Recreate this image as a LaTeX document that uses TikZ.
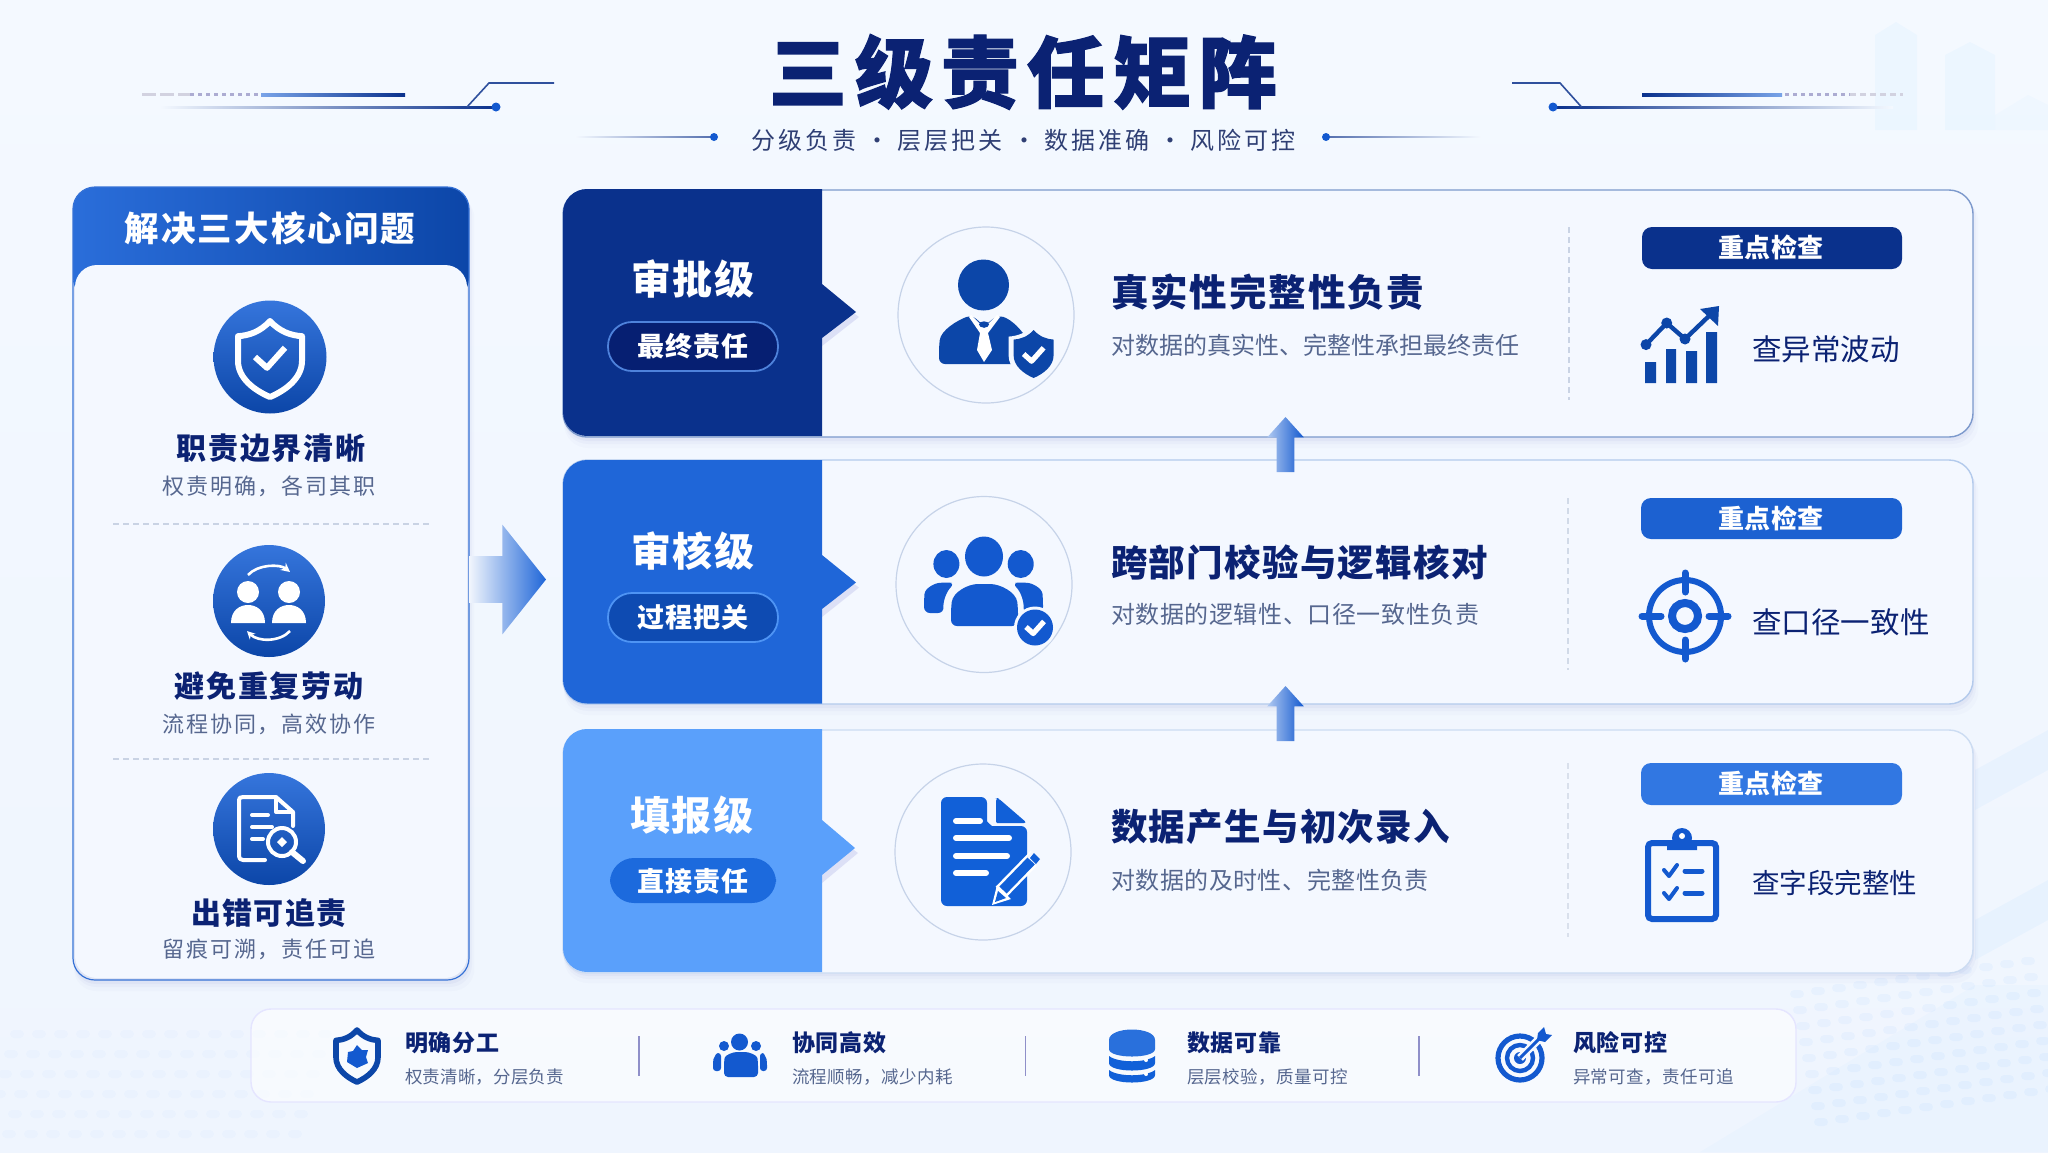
\documentclass[tikz,border=0pt]{standalone}
\usepackage{fontspec}
\setmainfont{Noto Sans CJK SC}
\usetikzlibrary{shapes.arrows,calc,arrows.meta}
\definecolor{navy}{HTML}{0B2273}
\definecolor{subgray}{HTML}{56678F}
\definecolor{subnavy}{HTML}{2F3F74}
\definecolor{cA}{HTML}{0A318C}
\definecolor{cB}{HTML}{1F66D8}
\definecolor{cC}{HTML}{5AA0FB}
\definecolor{icoA}{HTML}{0C46A8}
\definecolor{icoB}{HTML}{1359CF}
\definecolor{icoC}{HTML}{1160D8}
\definecolor{bgT}{HTML}{F4F9FF}
\definecolor{bgB}{HTML}{EFF5FE}
\definecolor{cardfill}{HTML}{F4F8FF}
\definecolor{bordA}{HTML}{7C99CC}
\definecolor{bordB}{HTML}{B3CAEC}
\definecolor{bordC}{HTML}{CCDCF2}
\definecolor{ringc}{HTML}{C6D3E8}
\definecolor{sepc}{HTML}{C9D3E4}
\newcommand\tx[9]{\node[anchor=#2,text=#7,inner sep=0,outer sep=0] (#1) at ({#3},{#4+0.38*#5}) {\pgfmathsetmacro\fsz{#5*0.5}\pgfmathsetmacro\lsv{(#6-#5)/#5*100}\pgfmathsetmacro\trail{(#6-#5)*0.5}\fontsize{\fsz}{\fsz}\selectfont#8\addfontfeatures{LetterSpace=\lsv}#9\hskip-\trail pt};}
\newcommand\bx[6]{\node[#6,inner sep=0,outer sep=0,minimum width={(#4-#2)*0.5pt},minimum height={(#5-#3)*0.5pt}] (#1) at ({(#2+#4)/2},{(#3+#5)/2}) {};}
\newcommand\softsh[5]{\foreach \d/\o in {2/.03,5/.022,9/.015}{\fill[blue!60!black,opacity=\o,rounded corners=#5] ({#1+1},{#2+\d}) rectangle ({#3+\d*0.6},{#4+\d+2});}}
\def\shieldp{(0,-1) .. controls (0.3,-0.72) and (0.65,-0.62) .. (1,-0.6) -- (1,0.05) .. controls (1,0.5) and (0.5,0.82) .. (0,1) .. controls (-0.5,0.82) and (-1,0.5) .. (-1,0.05) -- (-1,-0.6) .. controls (-0.65,-0.62) and (-0.3,-0.72) .. (0,-1) -- cycle}
\newcommand\chk[4]{\draw[#3,line width=#4,line join=round] ({#1-#2},{0+\chkY}) -- ({#1-0.2*#2},{\chkY+0.72*#2}) -- ({#1+#2},{\chkY-0.62*#2});}
\tikzset{
 x=0.5pt,y=-0.5pt,
 dsep/.style={draw=#1,line width=.8pt,dash pattern=on 3pt off 2pt},
 cardbody/.style={fill=cardfill,draw=#1,line width=0.7pt,rounded corners=12pt},
 pill/.style={rounded corners=12pt,fill=#1},
 badge/.style={rounded corners=5pt,fill=#1},
 iconring/.style={fill=cardfill,draw=ringc,line width=0.6pt,circle},
 upar/.style={single arrow,rotate=90,anchor=tip,inner xsep=0,inner ysep=4.25pt,outer sep=0,minimum height=27.5pt,minimum width=18pt,single arrow head extend=4.75pt,single arrow head indent=0pt,single arrow tip angle=84,left color=cB!35!white,middle color=icoB,right color=icoB,draw=none},
}
\begin{document}
\begin{tikzpicture}
\useasboundingbox (0,0) rectangle (2048,1152);
\begin{scope}
\clip (0,0) rectangle (2048,1152);
\shade[top color=bgT,bottom color=bgB] (0,0) rectangle (2048,1152);
% background decoration
\fill[blue!35!cyan,opacity=.03] (1875,130) -- (1875,35) -- (1896,22) -- (1917,35) -- (1917,130) -- cycle;
\fill[blue!35!cyan,opacity=.03] (1945,130) -- (1945,55) -- (1970,42) -- (1995,55) -- (1995,130) -- cycle;
\fill[blue!35!cyan,opacity=.02] (1995,130) -- (1995,115) -- (2028,95) -- (2048,105) -- (2048,130) -- cycle;
\fill[blue!40!cyan,opacity=.035] (1975,770) -- (2048,730) -- (2048,770) -- (1975,810) -- cycle;
\fill[blue!40!cyan,opacity=.035] (1975,920) -- (2048,880) -- (2048,920) -- (1975,960) -- cycle;
\fill[blue!40!cyan,opacity=.02] (1700,1152) -- (1975,985) -- (2048,985) -- (2048,1152) -- cycle;
\foreach \r in {0,...,8}{\foreach \c in {0,...,11}{
 \fill[blue!50!cyan,opacity=.035,rounded corners=2pt] ({1790-\r*8+\c*21+\r*11},{990+\r*16-\c*3}) rectangle ++(14,8);
}}
\foreach \r in {0,...,5}{\foreach \c in {0,...,14}{
 \fill[blue!50!cyan,opacity=.02,rounded corners=2pt] ({10+\c*22-\r*6},{1030+\r*20}) rectangle ++(14,8);
}}
\end{scope}

% header ornaments
\shade[left color=bgT,right color=cA] (160,106) rectangle (496,108);
\fill[icoB] (496,107) circle[radius=4.5];
\draw[cA!85!white,line width=.8pt] (467,107) -- (489,83) -- (554,83);
\draw[blue!18!gray!30!white,line width=1.5pt,dash pattern=on 7pt off 2pt] (142,94.7) -- (190,94.7);
\draw[blue!30!gray!50!white,line width=1.5pt,dash pattern=on 2pt off 2pt] (190,94.7) -- (261,94.7);
\shade[left color=cB!60!white,right color=cA] (261,93) rectangle (405,96.5);
\shade[left color=cA,right color=bgT] (1553,106) rectangle (1893,108);
\fill[icoB] (1553,107) circle[radius=4.5];
\draw[cA!85!white,line width=.8pt] (1512,83) -- (1560,83) -- (1581.5,107);
\shade[left color=cA,right color=cB!60!white] (1642,93) rectangle (1782,96.5);
\draw[blue!30!gray!50!white,line width=1.5pt,dash pattern=on 2pt off 2pt] (1785,94.7) -- (1850,94.7);
\draw[blue!18!gray!30!white,line width=1.5pt,dash pattern=on 3pt off 2pt] (1850,94.7) -- (1903,94.7);
\shade[left color=bgT,right color=cA!70!white] (575,136.5) rectangle (714,137.5);
\fill[icoB] (714,137) circle[radius=4];
\shade[left color=cA!70!white,right color=bgT] (1326,136.5) rectangle (1481,137.5);
\fill[icoB] (1326,137) circle[radius=4];

\tx{title}{base}{1023}{72}{78}{86}{navy}{\bfseries\addfontfeatures{FakeBold=1.5}}{三级责任矩阵}
\tx{s1}{base}{804}{140}{24}{27}{subnavy}{}{分级负责}
\tx{s2}{base}{950}{140}{24}{27}{subnavy}{}{层层把关}
\tx{s3}{base}{1097}{140}{24}{27}{subnavy}{}{数据准确}
\tx{s4}{base}{1243}{140}{24}{27}{subnavy}{}{风险可控}
\tx{d1}{base}{877}{140}{24}{24}{subnavy}{}{·}
\tx{d2}{base}{1024}{140}{24}{24}{subnavy}{}{·}
\tx{d3}{base}{1170}{140}{24}{24}{subnavy}{}{·}

% left panel
\softsh{73}{187}{469}{980}{11pt}
\shade[left color=cB!95!white,right color=icoA,rounded corners=11pt] (73,300) -- (73,187) -- (469,187) -- (469,300) -- cycle;
\bx{panelinner}{75}{265}{467}{978}{fill=cardfill,rounded corners=11pt}
\bx{panel}{73}{187}{469}{980}{draw=icoB!85!white,line width=.6pt,rounded corners=11pt}
\tx{ptitle}{base}{270}{228}{34.5}{36.6}{white}{\bfseries}{解决三大核心问题}

\node[circle,inner sep=0,minimum size=56.5pt,top color=cB!90!white,bottom color=icoA] (c1) at (270,357) {};
\begin{scope}[shift={(270,359)},xscale=32,yscale=38]
\draw[white,line width=3pt,line join=round] \shieldp;
\end{scope}
\def\chkY{357}\chk{270}{15}{white}{3pt}
\tx{p1}{base}{271}{448}{30}{31.8}{navy}{\bfseries}{职责边界清晰}
\tx{p1s}{base}{269}{486}{22}{23.8}{subgray}{}{权责明确，各司其职}
\draw[dsep=sepc] (113,524) -- (429,524);

\node[circle,inner sep=0,minimum size=56pt,top color=cB!90!white,bottom color=icoA] (c2) at (269,601) {};
\foreach \hx in {248,289}{
 \fill[white] (\hx,592) circle[radius=11];
 \fill[white] ({\hx-17},623) .. controls ({\hx-17},610) and ({\hx-8},605) .. (\hx,605) .. controls ({\hx+8},605) and ({\hx+17},610) .. ({\hx+17},623) -- cycle;
}
\draw[white,line width=1.3pt,-{Stealth[length=4.5pt,width=4.5pt]}] (248,575) .. controls (258,564) and (280,564) .. (290,572);
\draw[white,line width=1.3pt,{Stealth[length=4pt,width=4pt]}-] (247,631) .. controls (258,642) and (280,642) .. (290,631);
\tx{p2}{base}{269}{686}{30}{31.8}{navy}{\bfseries}{避免重复劳动}
\tx{p2s}{base}{269}{724}{22}{23.8}{subgray}{}{流程协同，高效协作}
\draw[dsep=sepc] (113,759) -- (429,759);

\node[circle,inner sep=0,minimum size=56pt,top color=cB!90!white,bottom color=icoA] (c3) at (269,829) {};
\draw[white,line width=2pt,line join=round,line cap=round] (265,860) -- (243,860) .. controls (240,860) and (239,858) .. (239,856) -- (239,800) .. controls (239,798) and (240,797) .. (243,797) -- (276,797) -- (293,812) -- (293,826);
\draw[white,line width=2pt,line join=round] (276,797) -- (276,812) -- (293,812);
\draw[white,line width=2pt,line cap=round] (252,815) -- (268,815) (252,827) -- (272,827) (252,839) -- (263,839);
\draw[white,line width=2pt] (282,842) circle[radius=14];
\draw[white,line width=3pt,line cap=round] (292,852) -- (303,861);
\fill[white] (282,837) -- (287,842) -- (282,847) -- (277,842) -- cycle;
\tx{p3}{base}{269}{913}{30}{31.4}{navy}{\bfseries}{出错可追责}
\tx{p3s}{base}{269}{949}{22}{23.8}{subgray}{}{留痕可溯，责任可追}

% big arrow
\node[single arrow,anchor=tip,inner xsep=0,inner ysep=11.5pt,outer sep=0,minimum height=38.5pt,minimum width=54.5pt,single arrow head extend=15.75pt,single arrow head indent=0pt,single arrow tip angle=103,left color=cB!6!white,middle color=cB!75!white,right color=cB,draw=none] (bigarrow) at (546,579.5) {};

% cards
\softsh{563}{189}{1973}{437}{12pt}
\softsh{563}{460}{1973}{704}{12pt}
\softsh{563}{729}{1973}{972}{12pt}
\bx{card1}{563}{190}{1973}{437}{cardbody=bordA}
\bx{card2}{563}{460}{1973}{704}{cardbody=bordB}
\bx{card3}{563}{730}{1973}{973}{cardbody=bordC}

\foreach \ya/\yb/\yt/\yc/\yd/\col/\xe in {189/436/284/312/338/cA/856,460/703.5/555/582.5/609/cB/856,729/972/820/848/875/cC/855}{
 \fill[blue!50!gray,opacity=.13] (822,\yt+6) -- (\xe+3,\yc+5) -- (822,\yd+8) -- cycle;
 \fill[\col] (822,\ya) [rounded corners=12pt] -- (563,\ya) -- (563,\yb) [sharp corners] -- (822,\yb) -- (822,\yd) -- (\xe,\yc) -- (822,\yt) -- cycle;
}

\tx{l1}{base}{693}{279}{40}{42}{white}{\bfseries}{审批级}
\bx{pill1}{608}{322}{778}{371}{pill=cA!70!black!90!blue,draw=icoB!75!white,line width=.9pt}
\tx{l1p}{base}{693}{346}{27}{28}{white}{\bfseries}{最终责任}
\tx{l2}{base}{693}{551}{40}{42}{white}{\bfseries}{审核级}
\bx{pill2}{608}{593}{778}{642}{pill=icoA!75!icoB,draw=cC!80!cB,line width=.9pt}
\tx{l2p}{base}{693}{617}{27}{28}{white}{\bfseries}{过程把关}
\tx{l3}{base}{692}{815}{40}{42}{white}{\bfseries}{填报级}
\bx{pill3}{610}{858}{776}{903}{pill=icoC!85!cC}
\tx{l3p}{base}{693}{881}{27}{28}{white}{\bfseries}{直接责任}

% ring icons
\node[iconring,inner sep=0,minimum size=88pt] (r1) at (986,315) {};
\node[iconring,inner sep=0,minimum size=88pt] (r2) at (984,584.5) {};
\node[iconring,inner sep=0,minimum size=88pt] (r3) at (983,852) {};

% person icon
\fill[icoA] (983.5,285) circle[radius=25.5];
\fill[icoA,rounded corners=3pt] (939,364) -- (939,346) .. controls (941,330) and (958,320) .. (972,315) -- (984,326) -- (998,315) .. controls (1012,320) and (1022,330) .. (1030,345) -- (1030,364) -- cycle;
\fill[white] (971,315) -- (984,328) -- (997,315) -- (1000,317) -- (988,333) -- (992,350) -- (984,362) -- (977,350) -- (980,333) -- (969,317) -- cycle;
\fill[icoA] (984,324.5) ellipse[x radius=5,y radius=3.2];
\begin{scope}[shift={(1033.6,354)},xscale=25,yscale=29]
\fill[cardfill] \shieldp;
\end{scope}
\begin{scope}[shift={(1033.6,354)},xscale=20,yscale=24]
\fill[icoA] \shieldp;
\end{scope}
\def\chkY{354}\chk{1033.6}{10}{white}{2.6pt}

% group icon
\fill[icoB] (984,556.5) ellipse[x radius=19,y radius=20];
\fill[icoB] (946.4,564) ellipse[x radius=13,y radius=14];
\fill[icoB] (1020.7,564) ellipse[x radius=13,y radius=14];
\fill[icoB,rounded corners=3pt] (924,613) -- (924,600) .. controls (925,588) and (935,583) .. (946,582.5) -- (955,583) .. controls (946,592) and (943,602) .. (944,613) -- cycle;
\fill[icoB,rounded corners=3pt] (1043,613) -- (1043,600) .. controls (1042,588) and (1032,583) .. (1021,582.5) -- (1012,583) .. controls (1021,592) and (1024,602) .. (1023,613) -- cycle;
\fill[icoB,rounded corners=3pt] (951,626) -- (951,608) .. controls (953,592) and (968,584) .. (984,584) .. controls (1000,584) and (1016,592) .. (1018,608) -- (1018,626) -- cycle;
\fill[cardfill] (1035,627.5) circle[radius=21];
\fill[icoB] (1035,627.5) circle[radius=18];
\def\chkY{627}\chk{1035}{9}{white}{2.6pt}

% doc icon
\fill[icoC,rounded corners=3pt] (941,906) -- (941,797) -- (987,797) -- (987,815) .. controls (987,822) and (992,826) .. (998,826) -- (1027,826) -- (1027,906) -- cycle;
\fill[icoC,rounded corners=1.5pt] (998,798) -- (1027,823) -- (1000,823) .. controls (997,823) and (996,821) .. (996,819) -- (996,798) -- cycle;
\draw[white,line width=3pt,line cap=round] (956,821) -- (980,821) (956,838) -- (1009,838) (956,856) -- (1007,856) (956,873) -- (986,873);
\draw[white,line width=7.5pt,line cap=butt] (1001,892) -- (1036,856);
\draw[icoC,line width=5pt] (1003,890) -- (1035,857);
\fill[cardfill] (1033,850) -- (1043,859) -- (1037,866) -- (1027,857) -- cycle;
\fill[icoC] (1034,853) -- (1040,859) -- (1036,864) -- (1030,858) -- cycle;
\fill[white] (992,905) -- (997,885) -- (1011,899) -- cycle;
\fill[icoC] (995,902) -- (998,891) -- (1006,898) -- cycle;

% card texts
\tx{h1}{base west}{1111}{292}{37.5}{39.4}{navy}{\bfseries}{真实性完整性负责}
\tx{d1t}{base west}{1111}{345}{24}{24}{subgray}{}{对数据的真实性、完整性承担最终责任}
\tx{h2}{base west}{1111}{563}{36.5}{37.8}{navy}{\bfseries}{跨部门校验与逻辑核对}
\tx{d2t}{base west}{1111}{614}{24}{24.6}{subgray}{}{对数据的逻辑性、口径一致性负责}
\tx{h3}{base west}{1111}{827}{36.5}{37.8}{navy}{\bfseries}{数据产生与初次录入}
\tx{d3t}{base west}{1111}{880}{24}{24.5}{subgray}{}{对数据的及时性、完整性负责}

\draw[dsep=sepc] (1569,227) -- (1569,400);
\draw[dsep=sepc!85!white] (1568,498) -- (1568,670);
\draw[dsep=sepc!70!white] (1568,763) -- (1568,937);

\bx{b1}{1642}{227}{1902}{269}{badge=cA}
\tx{b1t}{base}{1771}{248}{26}{26.2}{white}{\bfseries}{重点检查}
\bx{b2}{1641}{498}{1902}{539}{badge=cB!85!icoA}
\tx{b2t}{base}{1771}{519}{26}{26.2}{white}{\bfseries}{重点检查}
\bx{b3}{1641}{763}{1902}{805}{badge=cB!70!cC}
\tx{b3t}{base}{1771}{784}{26}{26.2}{white}{\bfseries}{重点检查}

\tx{r1t}{base west}{1752}{349}{29.5}{29.6}{navy}{}{查异常波动}
\tx{r2t}{base west}{1752}{622}{29.5}{29.6}{navy}{}{查口径一致性}
\tx{r3t}{base west}{1752}{883}{27.5}{27.5}{navy}{}{查字段完整性}

% chart icon
\fill[icoA] (1645,362) rectangle (1656,383) (1666,349) rectangle (1676,383) (1686,351) rectangle (1697,383) (1706,332) rectangle (1717,383);
\draw[icoA,line width=2.2pt] (1646,344.6) -- (1666.7,323) -- (1685,339) -- (1710,315);
\fill[icoA] (1646,344.6) circle[radius=5.5] (1666.7,323) circle[radius=5.5] (1685,339) circle[radius=5.5];
\fill[icoA] (1719,306) -- (1718,326) -- (1700,309) -- cycle;

% target icon
\draw[icoB,line width=3pt] (1685,616) circle[radius=36];
\draw[icoB,line width=4pt] (1685,616) circle[radius=13];
\draw[icoB,line width=3.5pt,line cap=round] (1685,573) -- (1685,592) (1685,640) -- (1685,659) (1642,616) -- (1661,616) (1709,616) -- (1728,616);

% clipboard icon
\draw[icoB,line width=3pt,rounded corners=2pt] (1648,843) rectangle (1716,919);
\fill[icoB] (1667,850) [rounded corners=3pt] -- (1667,840) -- (1697,840) [sharp corners] -- (1697,850) -- cycle;
\fill[icoB] (1682,838) circle[radius=10];
\fill[white] (1682,836) circle[radius=3];
\draw[icoB,line width=2pt,line join=round,line cap=round] (1664,870) -- (1669,876) -- (1677,865) (1664,893) -- (1669,899) -- (1677,888);
\draw[icoB,line width=2.5pt,line cap=round] (1685,871) -- (1702,871) (1685,893) -- (1702,893);

% up arrows
\node[upar] (up1) at (1285.5,417) {};
\node[upar] (up2) at (1285.5,686) {};

% bottom band
\bx{band}{251}{1009}{1796}{1102}{fill=white,fill opacity=.55,draw=blue!10!white,line width=.7pt,rounded corners=10pt}
\begin{scope}[shift={(357,1056)},xscale=21,yscale=26]
\draw[icoA,line width=2.8pt,line join=round] \shieldp;
\end{scope}
\fill[icoB] (357,1045) -- (362,1050) -- (368,1050) -- (366,1057) -- (368,1063) -- (357,1068) -- (347,1062) -- (348,1052) -- (353,1051) -- cycle;
\tx{f1}{base west}{405}{1043}{23}{23.7}{navy}{\bfseries}{明确分工}
\tx{f1s}{base west}{405}{1077}{17.5}{17.7}{subgray}{}{权责清晰，分层负责}
\draw[gray!65!blue!65!white,line width=.7pt] (639,1036) -- (639,1076);

\fill[icoB] (739.5,1042) circle[radius=8.5];
\fill[icoB] (724,1046) circle[radius=5] (756,1046) circle[radius=5];
\fill[icoB,rounded corners=2pt] (724,1077) -- (724,1062) .. controls (725,1055) and (733,1052) .. (741,1052) .. controls (749,1052) and (757,1055) .. (758,1062) -- (758,1077) -- cycle;
\fill[icoB,rounded corners=1.5pt] (713,1071) -- (713,1062) .. controls (714,1056) and (717,1053) .. (721,1053) -- (721,1071) -- cycle;
\fill[icoB,rounded corners=1.5pt] (767,1071) -- (767,1062) .. controls (766,1056) and (763,1053) .. (760,1053) -- (760,1071) -- cycle;
\tx{f2}{base west}{792}{1043}{23}{23.7}{navy}{\bfseries}{协同高效}
\tx{f2s}{base west}{792}{1077}{17.5}{17.9}{subgray}{}{流程顺畅，减少内耗}
\draw[gray!65!blue!65!white,line width=.7pt] (1025.5,1036) -- (1025.5,1076);

\fill[icoC!90!white] (1109,1040) .. controls (1109,1026) and (1155,1026) .. (1155,1040) -- (1155,1049) .. controls (1155,1059) and (1109,1059) .. (1109,1049) -- cycle;
\fill[icoC] (1109,1056) .. controls (1118,1063) and (1146,1063) .. (1155,1056) -- (1155,1063) .. controls (1155,1073) and (1109,1073) .. (1109,1063) -- cycle;
\fill[icoC] (1109,1070) .. controls (1118,1077) and (1146,1077) .. (1155,1070) -- (1155,1075) .. controls (1155,1085) and (1109,1085) .. (1109,1075) -- cycle;
\fill[white] (1146,1060) circle[radius=2] (1146,1074) circle[radius=2];
\tx{f3}{base west}{1187}{1043}{23}{23.7}{navy}{\bfseries}{数据可靠}
\tx{f3s}{base west}{1187}{1077}{17.5}{17.9}{subgray}{}{层层校验，质量可控}
\draw[gray!65!blue!65!white,line width=.7pt] (1419,1036) -- (1419,1076);

\draw[icoB,line width=2.6pt] (1520,1058) circle[radius=22];
\draw[icoB,line width=2.2pt] (1520,1058) circle[radius=13];
\fill[icoB] (1520,1058) circle[radius=6];
\draw[bgT,line width=4pt] (1520,1058) -- (1548,1030);
\draw[icoB,line width=1.5pt] (1520,1058) -- (1541,1037);
\fill[icoB] (1537,1040) -- (1538,1033) -- (1544,1027) -- (1546,1034) -- (1552,1035) -- (1545,1042) -- cycle;
\tx{f4}{base west}{1573}{1043}{23}{23.7}{navy}{\bfseries}{风险可控}
\tx{f4s}{base west}{1573}{1077}{17.5}{17.9}{subgray}{}{异常可查，责任可追}
\end{tikzpicture}
\end{document}
